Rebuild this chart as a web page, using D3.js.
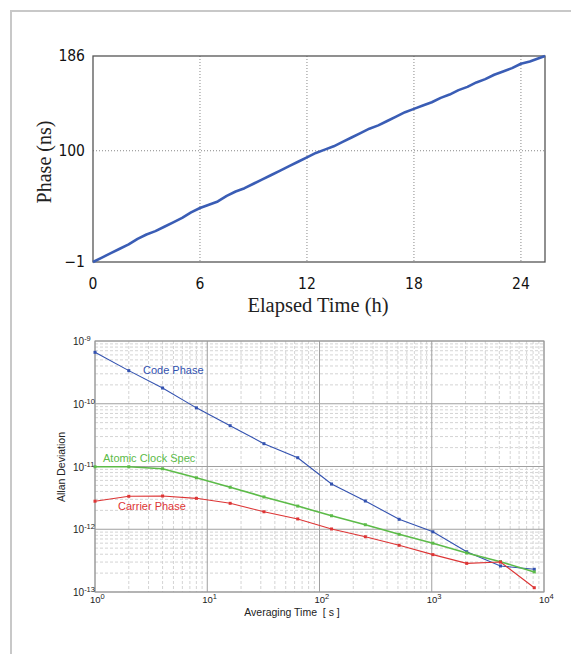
<!DOCTYPE html>
<html>
<head>
<meta charset="utf-8">
<script src="https://cdn.jsdelivr.net/npm/d3@7"></script>
<style>
  body { margin: 0; background: #fff; }
  svg { display: block; }
</style>
</head>
<body>
<svg id="chart"></svg>
<script>
// ---- top chart data: phase vs elapsed time ----
var phaseHours = [0, 0.5, 1, 1.5, 2, 2.5, 3, 3.5, 4, 4.5, 5, 5.5, 6, 6.5, 7, 7.5, 8, 8.5, 9, 9.5,
  10, 10.5, 11, 11.5, 12, 12.5, 13, 13.5, 14, 14.5, 15, 15.5, 16, 16.5, 17, 17.5, 18, 18.5, 19, 19.5,
  20, 20.5, 21, 21.5, 22, 22.5, 23, 23.5, 24, 24.5, 25, 25.35];
var phaseNs = [-1, 3, 7, 11, 15, 20, 24, 27, 31, 35, 39, 44, 48, 51, 54, 59, 63, 66, 70, 74,
  78, 82, 86, 90, 94, 98, 101, 104, 108, 112, 116, 120, 123, 127, 131, 135, 138, 141, 144, 148,
  151, 155, 158, 162, 165, 169, 172, 175, 179, 181, 184, 186];
var phaseYTicks = [-1, 100, 186];
var phaseXTicks = [0, 6, 12, 18, 24];

// ---- bottom chart data: Allan deviation ----
var tau = [1, 2, 4, 8, 16, 32, 64, 128, 256, 512, 1024, 2048, 4096, 8192];
var codePhase = [6.6e-10, 3.37e-10, 1.78e-10, 8.6e-11, 4.47e-11, 2.31e-11, 1.38e-11, 5.26e-12,
  2.82e-12, 1.44e-12, 9.1e-13, 4.38e-13, 2.6e-13, 2.3e-13];
var atomicClock = [9.9e-12, 9.9e-12, 9.2e-12, 6.6e-12, 4.67e-12, 3.27e-12, 2.34e-12, 1.64e-12,
  1.18e-12, 8.3e-13, 6.0e-13, 4.19e-13, 3.04e-13, 2.09e-13];
var carrierPhase = [2.8e-12, 3.35e-12, 3.39e-12, 3.11e-12, 2.59e-12, 1.9e-12, 1.46e-12, 1.01e-12,
  7.6e-13, 5.55e-13, 3.94e-13, 2.86e-13, 3.0e-13, 1.17e-13];
var adevXExp = [0, 1, 2, 3, 4];
var adevYExp = [-9, -10, -11, -12, -13];

var W = 571, H = 654;
var svg = d3.select("#chart").attr("width", W).attr("height", H);

// outer frame
svg.append("path")
  .attr("d", "M11," + H + "V11H" + W)
  .attr("fill", "none").attr("stroke", "#c8c8c8").attr("stroke-width", 2);

// ================= top chart =================
var t = {left: 93, right: 545, top: 56, bottom: 262};
var x1 = d3.scaleLinear().domain([0, 25.35]).range([t.left, t.right]);
var y1 = d3.scaleLinear().domain([-1, 186]).range([t.bottom, t.top]);

var topG = svg.append("g");

// dotted grid
topG.selectAll(".gx").data(phaseXTicks.slice(1)).enter().append("line")
  .attr("x1", d => x1(d)).attr("x2", d => x1(d))
  .attr("y1", t.top).attr("y2", t.bottom)
  .attr("stroke", "#888").attr("stroke-dasharray", "1,2");
topG.append("line")
  .attr("x1", t.left).attr("x2", t.right)
  .attr("y1", y1(100)).attr("y2", y1(100))
  .attr("stroke", "#888").attr("stroke-dasharray", "1,2");

topG.append("rect")
  .attr("x", t.left).attr("y", t.top)
  .attr("width", t.right - t.left).attr("height", t.bottom - t.top)
  .attr("fill", "none").attr("stroke", "#555").attr("stroke-width", 1.3);

var line1 = d3.line().x((d, i) => x1(phaseHours[i])).y(d => y1(d));
topG.append("path").datum(phaseNs)
  .attr("d", line1)
  .attr("fill", "none").attr("stroke", "#3a5db5").attr("stroke-width", 2.6)
  .attr("stroke-linejoin", "round");

// axes labels
var narrow = "'Liberation Sans Narrow', 'DejaVu Sans Condensed', 'Liberation Sans', sans-serif";
topG.selectAll(".yl").data(phaseYTicks).enter().append("text")
  .attr("x", t.left - 8).attr("y", d => y1(d)).attr("dy", "0.35em")
  .attr("text-anchor", "end")
  .style("font-family", narrow).style("font-size", "15.5px").attr("fill", "#111")
  .text(d => d < 0 ? "\u2212" + Math.abs(d) : d);
topG.selectAll(".xl").data(phaseXTicks).enter().append("text")
  .attr("x", d => x1(d)).attr("y", 289)
  .attr("text-anchor", "middle")
  .style("font-family", narrow).style("font-size", "15.5px").attr("fill", "#111")
  .text(d => d);

topG.append("text")
  .attr("transform", "translate(51,162) rotate(-90)")
  .attr("text-anchor", "middle")
  .style("font-family", "'Liberation Serif', 'Times New Roman', serif").style("font-size", "20px")
  .attr("fill", "#222")
  .text("Phase (ns)");
topG.append("text")
  .attr("x", 318).attr("y", 312)
  .attr("text-anchor", "middle")
  .style("font-family", "'Liberation Serif', 'Times New Roman', serif").style("font-size", "20.5px")
  .attr("fill", "#222")
  .text("Elapsed Time (h)");

// ================= bottom chart =================
var b = {left: 95, right: 544, top: 341, bottom: 592};
var x2 = d3.scaleLog().domain([1, 1e4]).range([b.left, b.right]);
var y2 = d3.scaleLog().domain([1e-13, 1e-9]).range([b.bottom, b.top]);

var bot = svg.append("g");

// minor grid
var minorX = [], minorY = [];
for (var e = 0; e < 4; e++) for (var m = 2; m < 10; m++) minorX.push(m * Math.pow(10, e));
for (var e2 = -13; e2 < -9; e2++) for (var m2 = 2; m2 < 10; m2++) minorY.push(m2 * Math.pow(10, e2));

bot.selectAll(".mx").data(minorX).enter().append("line")
  .attr("x1", d => x2(d)).attr("x2", d => x2(d))
  .attr("y1", b.top).attr("y2", b.bottom)
  .attr("stroke", "#cfcfcf").attr("stroke-width", 0.9).attr("stroke-dasharray", "3,2");
bot.selectAll(".my").data(minorY).enter().append("line")
  .attr("x1", b.left).attr("x2", b.right)
  .attr("y1", d => y2(d)).attr("y2", d => y2(d))
  .attr("stroke", "#cfcfcf").attr("stroke-width", 0.9).attr("stroke-dasharray", "3,2");

// major grid
bot.selectAll(".Mx").data(adevXExp).enter().append("line")
  .attr("x1", d => x2(Math.pow(10, d))).attr("x2", d => x2(Math.pow(10, d)))
  .attr("y1", b.top).attr("y2", b.bottom)
  .attr("stroke", "#a0a0a0").attr("stroke-width", 1);
bot.selectAll(".My").data(adevYExp).enter().append("line")
  .attr("x1", b.left).attr("x2", b.right)
  .attr("y1", d => y2(Math.pow(10, d))).attr("y2", d => y2(Math.pow(10, d)))
  .attr("stroke", "#a0a0a0").attr("stroke-width", 1);

bot.append("rect")
  .attr("x", b.left).attr("y", b.top)
  .attr("width", b.right - b.left).attr("height", b.bottom - b.top)
  .attr("fill", "none").attr("stroke", "#999").attr("stroke-width", 1);

// series
var series = [
  {name: "Code Phase", values: codePhase, color: "#3352b0", lx: 143, ly: 370},
  {name: "Atomic Clock Spec", values: atomicClock, color: "#5cbb48", lx: 103, ly: 458},
  {name: "Carrier Phase", values: carrierPhase, color: "#dd3535", lx: 118, ly: 506}
];
var line2 = d3.line().x((d, i) => x2(tau[i])).y(d => y2(d));

series.forEach(function(s) {
  bot.append("path").datum(s.values)
    .attr("d", line2)
    .attr("fill", "none").attr("stroke", s.color)
    .attr("stroke-width", s.name == "Atomic Clock Spec" ? 1.6 : 1.1);
  bot.selectAll(null).data(s.values).enter().append("rect")
    .attr("x", (d, i) => x2(tau[i]) - 1.5).attr("y", d => y2(d) - 1.5)
    .attr("width", 3).attr("height", 3)
    .attr("fill", s.color);
  bot.append("text")
    .attr("x", s.lx).attr("y", s.ly).attr("dy", "0.35em")
    .style("font-family", "'Liberation Sans', Arial, sans-serif").style("font-size", "11px")
    .attr("fill", s.color)
    .text(s.name);
});

// tick labels with superscripts
var sans = "'Liberation Sans', Arial, sans-serif";
var xl = bot.selectAll(".xt").data(adevXExp).enter().append("text")
  .attr("x", d => x2(Math.pow(10, d)) - 5).attr("y", 603)
  .style("font-family", sans).style("font-size", "9.5px").attr("fill", "#222");
xl.append("tspan").text("10");
xl.append("tspan").attr("dy", -4).style("font-size", "7.5px").text(d => d);

var yl = bot.selectAll(".yt").data(adevYExp).enter().append("text")
  .attr("x", 73).attr("y", d => y2(Math.pow(10, d)) + 4)
  .style("font-family", sans).style("font-size", "10px").attr("fill", "#222");
yl.append("tspan").text("10");
yl.append("tspan").attr("dy", -4).style("font-size", "7.5px").text(d => "-" + Math.abs(d));

bot.append("text")
  .attr("transform", "translate(65,467) rotate(-90)")
  .attr("text-anchor", "middle")
  .style("font-family", sans).style("font-size", "10.5px").attr("fill", "#222")
  .text("Allan Deviation");
bot.append("text")
  .attr("x", 292).attr("y", 616)
  .attr("text-anchor", "middle")
  .style("font-family", sans).style("font-size", "10.5px").attr("fill", "#222")
  .attr("xml:space", "preserve")
  .text("Averaging Time  [ s ]");
</script>
</body>
</html>
